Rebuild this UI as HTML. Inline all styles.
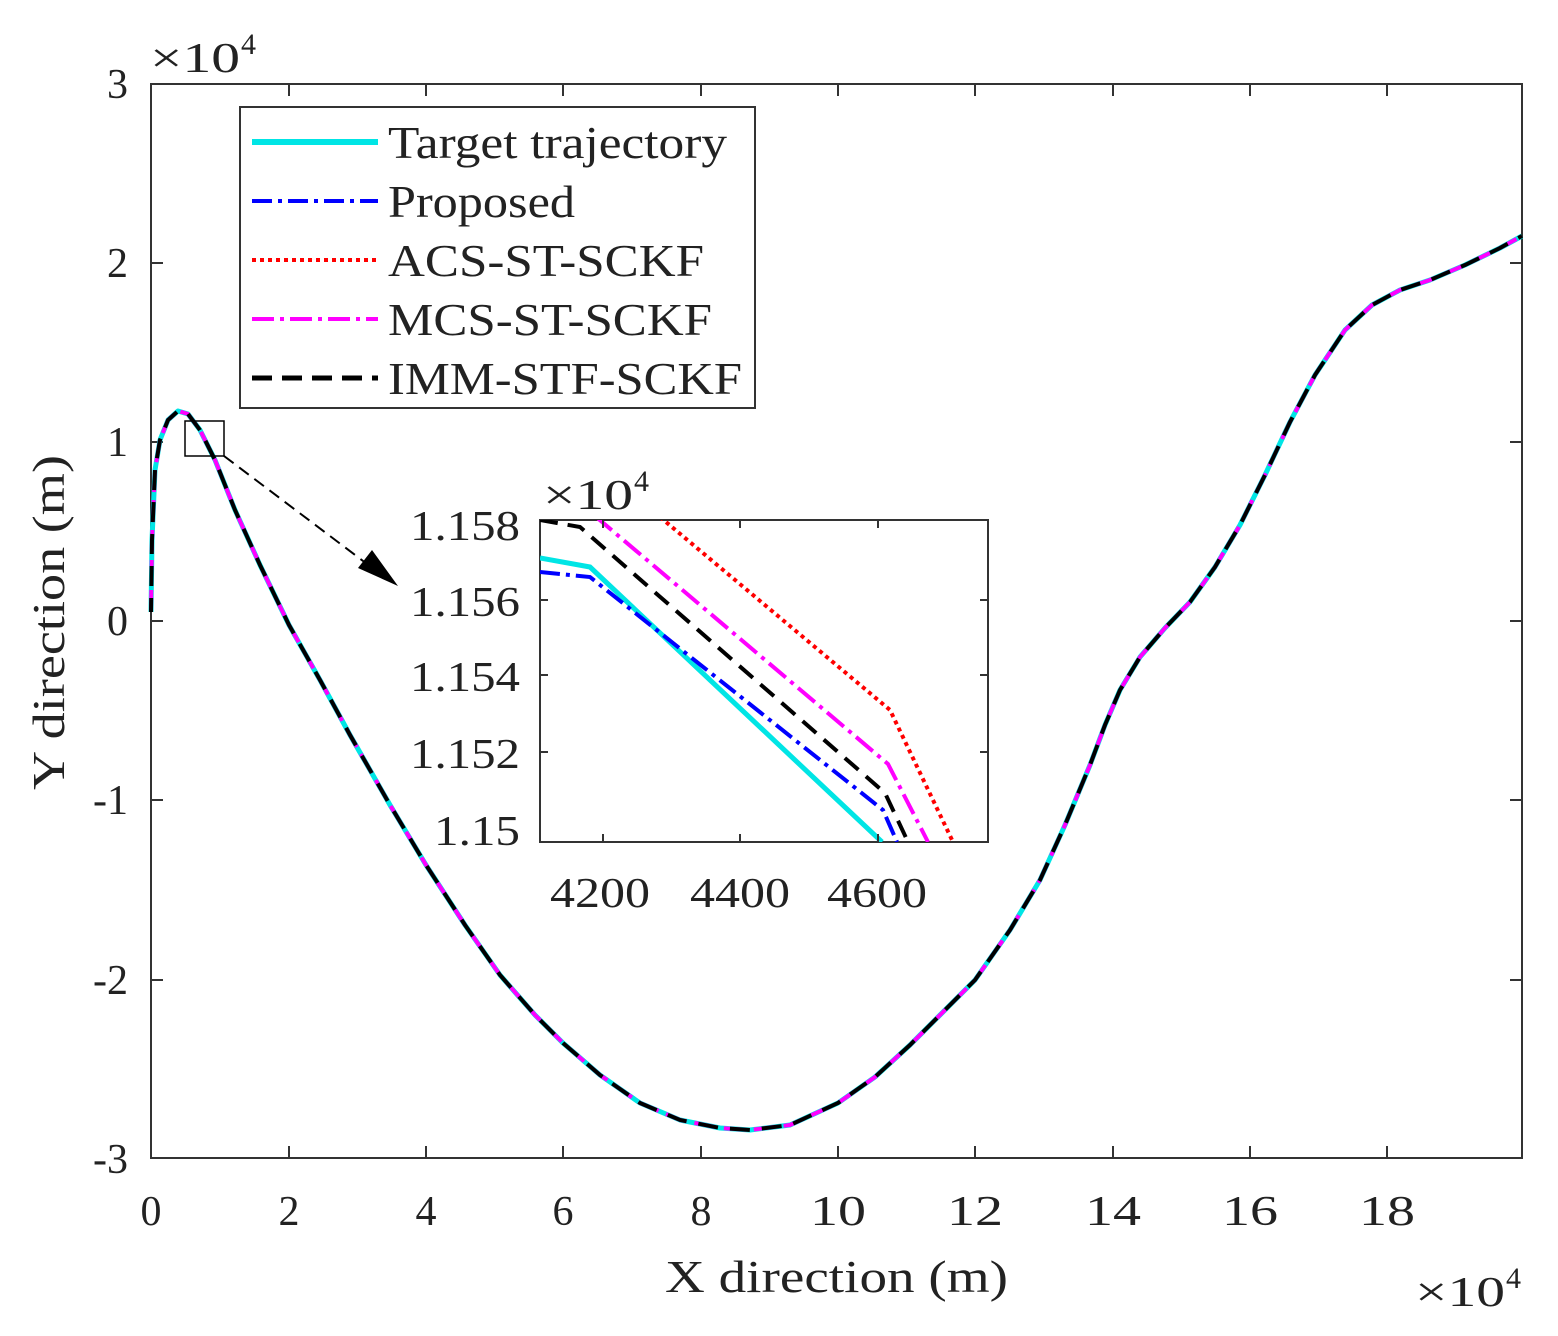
<!DOCTYPE html>
<html><head><meta charset="utf-8"><style>body{margin:0;background:#fff}svg{display:block}text{font-family:"Liberation Serif",serif;fill:#222}</style></head><body>
<svg width="1558" height="1336" viewBox="0 0 1558 1336" xmlns="http://www.w3.org/2000/svg">
<rect x="151" y="84" width="1371" height="1074" fill="none" stroke="#333" stroke-width="2"/>
<g stroke="#333" stroke-width="2">
<path d="M151 1158v-12M289 1158v-12M426 1158v-12M563 1158v-12M701 1158v-12M838 1158v-12M975 1158v-12M1113 1158v-12M1250 1158v-12M1387 1158v-12"/>
<path d="M289 84v12M426 84v12M563 84v12M701 84v12M838 84v12M975 84v12M1113 84v12M1250 84v12M1387 84v12"/>
<path d="M151 263h12M151 442h12M151 621h12M151 800h12M151 980h12M1522 263h-12M1522 442h-12M1522 621h-12M1522 800h-12M1522 980h-12"/>
</g>
<g font-size="42" text-anchor="middle">
<text x="151" y="1225">0</text><text x="289" y="1225">2</text><text x="426" y="1225">4</text><text x="563" y="1225">6</text><text x="701" y="1225">8</text><text x="838" y="1225" textLength="56" lengthAdjust="spacingAndGlyphs">10</text><text x="975" y="1225" textLength="56" lengthAdjust="spacingAndGlyphs">12</text><text x="1113" y="1225" textLength="56" lengthAdjust="spacingAndGlyphs">14</text><text x="1250" y="1225" textLength="56" lengthAdjust="spacingAndGlyphs">16</text><text x="1387" y="1225" textLength="56" lengthAdjust="spacingAndGlyphs">18</text>
</g>
<g font-size="42" text-anchor="end">
<text x="128" y="98">3</text><text x="128" y="277">2</text><text x="128" y="456">1</text><text x="128" y="635">0</text><text x="128" y="814">-1</text><text x="128" y="994">-2</text><text x="128" y="1173">-3</text>
</g>
<text x="150" y="72" font-size="42" textLength="90" lengthAdjust="spacingAndGlyphs">×10</text><text x="241" y="54" font-size="30">4</text>
<text x="1415" y="1306" font-size="42" textLength="90" lengthAdjust="spacingAndGlyphs">×10</text><text x="1506" y="1288" font-size="30">4</text>
<text x="665" y="1292" font-size="46" textLength="343" lengthAdjust="spacingAndGlyphs">X direction (m)</text>
<text transform="translate(64,790) rotate(-90)" font-size="46" textLength="335" lengthAdjust="spacingAndGlyphs">Y direction (m)</text>
<path d="M151 612 L152 540 L155 470 L160 440 L168 420 L178 411 L188 414 L200 430 L215 460 L235 510 L260 565 L289 625 L320 680 L350 735 L390 805 L426 865 L465 925 L500 975 L535 1015 L563 1043 L600 1075 L640 1103 L680 1120 L720 1128 L750 1130 L790 1125 L838 1103 L875 1077 L910 1045 L945 1010 L975 980 L1010 930 L1040 880 L1065 825 L1090 765 L1105 725 L1120 690 L1140 657 L1165 628 L1190 602 L1215 567 L1240 525 L1265 475 L1290 422 L1315 375 L1345 330 L1372 305 L1400 290 L1430 280 L1465 265 L1500 248 L1522 236" fill="none" stroke="#00e5e5" stroke-width="5" stroke-linejoin="round"/>
<path d="M151 612 L152 540 L155 470 L160 440 L168 420 L178 411 L188 414 L200 430 L215 460 L235 510 L260 565 L289 625 L320 680 L350 735 L390 805 L426 865 L465 925 L500 975 L535 1015 L563 1043 L600 1075 L640 1103 L680 1120 L720 1128 L750 1130 L790 1125 L838 1103 L875 1077 L910 1045 L945 1010 L975 980 L1010 930 L1040 880 L1065 825 L1090 765 L1105 725 L1120 690 L1140 657 L1165 628 L1190 602 L1215 567 L1240 525 L1265 475 L1290 422 L1315 375 L1345 330 L1372 305 L1400 290 L1430 280 L1465 265 L1500 248 L1522 236" fill="none" stroke="#ff00ff" stroke-width="4" stroke-dasharray="22 8"/>
<path d="M151 612 L152 540 L155 470 L160 440 L168 420 L178 411 L188 414 L200 430 L215 460 L235 510 L260 565 L289 625 L320 680 L350 735 L390 805 L426 865 L465 925 L500 975 L535 1015 L563 1043 L600 1075 L640 1103 L680 1120 L720 1128 L750 1130 L790 1125 L838 1103 L875 1077 L910 1045 L945 1010 L975 980 L1010 930 L1040 880 L1065 825 L1090 765 L1105 725 L1120 690 L1140 657 L1165 628 L1190 602 L1215 567 L1240 525 L1265 475 L1290 422 L1315 375 L1345 330 L1372 305 L1400 290 L1430 280 L1465 265 L1500 248 L1522 236" fill="none" stroke="#000" stroke-width="4" stroke-dasharray="20 12" stroke-dashoffset="6"/>
<rect x="185" y="421" width="39" height="35" fill="none" stroke="#000" stroke-width="1.5"/>
<path d="M224 456 L375 570" stroke="#000" stroke-width="2" stroke-dasharray="12 7"/>
<path d="M398 586 L358 568 L372 550 Z" fill="#000"/>
<rect x="240" y="107" width="515" height="301" fill="#fff" stroke="#333" stroke-width="2"/>
<path d="M252 142H378" stroke="#00e5e5" stroke-width="6"/>
<path d="M252 201H378" stroke="#0000ff" stroke-width="4" stroke-dasharray="20 6 4 6"/>
<path d="M252 260H378" stroke="#ff0000" stroke-width="4" stroke-dasharray="4 4"/>
<path d="M252 319H378" stroke="#ff00ff" stroke-width="4" stroke-dasharray="22 6 4 6"/>
<path d="M252 378H378" stroke="#000" stroke-width="5" stroke-dasharray="20 10"/>
<g font-size="46">
<text x="388" y="158" textLength="339" lengthAdjust="spacingAndGlyphs">Target trajectory</text>
<text x="388" y="217" textLength="187" lengthAdjust="spacingAndGlyphs">Proposed</text>
<text x="388" y="276" textLength="316" lengthAdjust="spacingAndGlyphs">ACS-ST-SCKF</text>
<text x="388" y="335" textLength="324" lengthAdjust="spacingAndGlyphs">MCS-ST-SCKF</text>
<text x="388" y="394" textLength="354" lengthAdjust="spacingAndGlyphs">IMM-STF-SCKF</text>
</g>
<rect x="540" y="520" width="448" height="322" fill="#fff" stroke="#333" stroke-width="2"/>
<svg x="540" y="520" width="448" height="322" viewBox="540 520 448 322" overflow="hidden">
<path d="M540 558 L590 567 L882 842" fill="none" stroke="#00e5e5" stroke-width="5"/>
<path d="M540 572 L590 577 L883 810 L897 842" fill="none" stroke="#0000ff" stroke-width="4" stroke-dasharray="20 6 4 6"/>
<path d="M540 520 L580 527 L885 793 L908 842" fill="none" stroke="#000" stroke-width="4" stroke-dasharray="18 10"/>
<path d="M595 516 L888 764 L928 842" fill="none" stroke="#ff00ff" stroke-width="4" stroke-dasharray="22 6 4 6"/>
<path d="M660 517 L890 710 L953 842" fill="none" stroke="#ff0000" stroke-width="4" stroke-dasharray="4 4"/>
</svg>
<g stroke="#333" stroke-width="2"><path d="M603 842v-8M740 842v-8M878 842v-8M603 520v8M740 520v8M878 520v8M540 600h8M540 675h8M540 752h8M988 600h-8M988 675h-8M988 752h-8"/></g>
<g font-size="42" text-anchor="middle"><text x="600" y="907" textLength="100" lengthAdjust="spacingAndGlyphs">4200</text><text x="740" y="907" textLength="100" lengthAdjust="spacingAndGlyphs">4400</text><text x="877" y="907" textLength="100" lengthAdjust="spacingAndGlyphs">4600</text></g>
<g font-size="42" text-anchor="end"><text x="520" y="540" textLength="110" lengthAdjust="spacingAndGlyphs">1.158</text><text x="520" y="616" textLength="110" lengthAdjust="spacingAndGlyphs">1.156</text><text x="520" y="691" textLength="110" lengthAdjust="spacingAndGlyphs">1.154</text><text x="520" y="768" textLength="110" lengthAdjust="spacingAndGlyphs">1.152</text><text x="520" y="845" textLength="86" lengthAdjust="spacingAndGlyphs">1.15</text></g>
<text x="543" y="509" font-size="42" textLength="90" lengthAdjust="spacingAndGlyphs">×10</text><text x="634" y="491" font-size="30">4</text>
</svg>
</body></html>
